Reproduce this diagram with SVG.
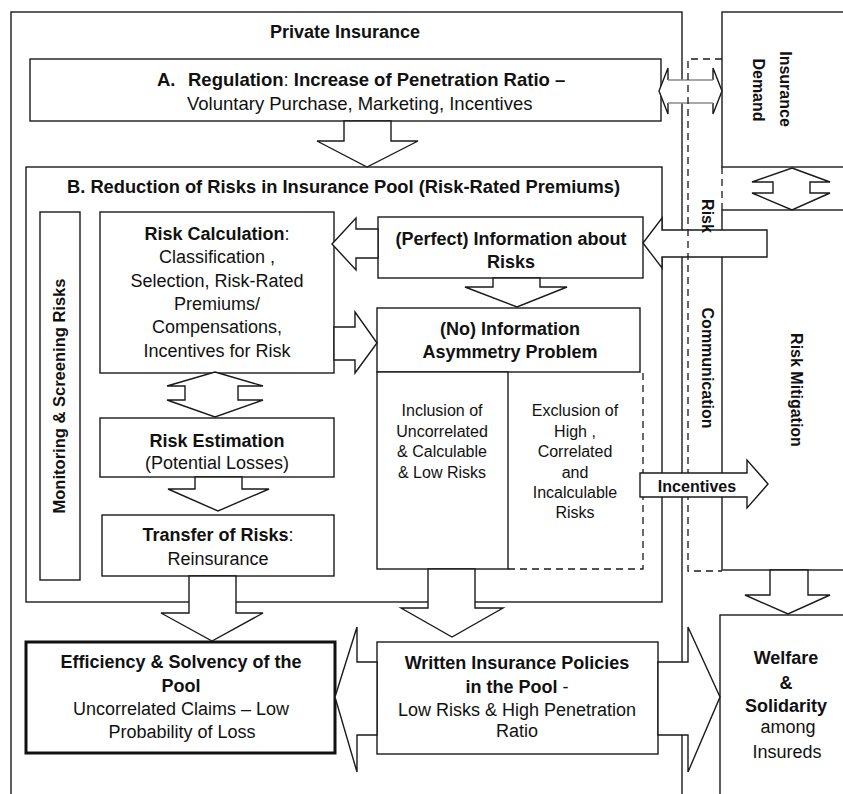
<svg xmlns="http://www.w3.org/2000/svg" width="843" height="794" viewBox="0 0 843 794">
  <style>
    .box{fill:#fff;stroke:#1a1a1a;stroke-width:1.4}
    .thick{fill:#fff;stroke:#111;stroke-width:3}
    .ln{fill:none;stroke:#1a1a1a;stroke-width:1.4}
    .dash{fill:none;stroke:#1a1a1a;stroke-width:1.3;stroke-dasharray:7 5}
    .arr{fill:#fff;stroke:#1a1a1a;stroke-width:1.4;stroke-linejoin:miter}
    .grey{fill:none;stroke:#8a8a8a;stroke-width:1.4}
    text{font-family:"Liberation Sans",Arial,Helvetica,sans-serif;fill:#111;text-anchor:middle}
    .b{font-weight:bold}
    .n{font-weight:normal}
    .s16{font-size:16px}
    .s18{font-size:18px}
    .s185{font-size:18.5px}
    .st{text-anchor:start}
  </style>

  <!-- outer frames -->
  <g id="private-insurance">
    <rect class="box" x="11" y="12" width="671" height="800"/>
    <text class="b s18" x="345" y="38">Private Insurance</text>
  </g>
  <g id="insurance-demand">
    <rect class="box" x="722" y="12" width="130" height="155"/>
    <text class="b s16" transform="translate(780,89) rotate(90)">Insurance</text>
    <text class="b s16" transform="translate(753,90) rotate(90)">Demand</text>
  </g>
  <g id="risk-mitigation">
    <rect class="box" x="722" y="210" width="130" height="360"/>
    <text class="b s16" transform="translate(791,390) rotate(90)">Risk Mitigation</text>
  </g>
  <g id="welfare">
    <rect class="box" x="720" y="615" width="130" height="200"/>
    <text class="b s18" x="786" y="664">Welfare</text>
    <text class="b s18" x="786" y="689">&amp;</text>
    <text class="b s18" x="786" y="712">Solidarity</text>
    <text class="s18" x="788" y="733">among</text>
    <text class="s18" x="787" y="758">Insureds</text>
  </g>

  <!-- A. regulation -->
  <g id="regulation">
    <rect class="box" x="30" y="59" width="631" height="62"/>
    <text class="b s185 st" x="157" y="86">A.</text>
    <text class="b s185 st" x="188" y="86">Regulation<tspan class="n">:</tspan> Increase of Penetration Ratio –</text>
    <text class="s185 st" x="187" y="110">Voluntary Purchase, Marketing, Incentives</text>
  </g>

  <!-- B. risk pool -->
  <g id="risk-pool">
    <rect class="box" x="26" y="167" width="636" height="435"/>
    <text class="b s18 st" x="67" y="193" textLength="553" lengthAdjust="spacingAndGlyphs">B. Reduction of Risks in Insurance Pool (Risk-Rated Premiums)</text>
  </g>

  <g id="monitoring">
    <rect class="box" x="40" y="212" width="40" height="368"/>
    <text class="b s16" transform="translate(65,396) rotate(-90)" textLength="235" lengthAdjust="spacingAndGlyphs">Monitoring &amp; Screening Risks</text>
  </g>

  <g id="risk-calculation">
    <rect class="box" x="100" y="212" width="234" height="161"/>
    <text class="s18" x="217" y="240"><tspan class="b">Risk Calculation</tspan>:</text>
    <text class="s18" x="217" y="263">Classification ,</text>
    <text class="s18" x="217" y="287">Selection, Risk-Rated</text>
    <text class="s18" x="217" y="310">Premiums/</text>
    <text class="s18" x="217" y="333">Compensations,</text>
    <text class="s18" x="217" y="357">Incentives for Risk</text>
  </g>

  <g id="risk-estimation">
    <rect class="box" x="100" y="418" width="234" height="59"/>
    <text class="b s18" x="217" y="447">Risk Estimation</text>
    <text class="s18" x="217" y="469">(Potential Losses)</text>
  </g>

  <g id="transfer">
    <rect class="box" x="102" y="515" width="232" height="61"/>
    <text class="s18" x="218" y="541"><tspan class="b">Transfer of Risks</tspan>:</text>
    <text class="s18" x="218" y="565">Reinsurance</text>
  </g>

  <g id="perfect-information">
    <rect class="box" x="378" y="217" width="265" height="61"/>
    <text class="b s18" x="511" y="245">(Perfect) Information about</text>
    <text class="b s18" x="511" y="268">Risks</text>
  </g>

  <g id="no-asymmetry">
    <rect class="box" x="377" y="308" width="263" height="64"/>
    <text class="b s18" x="510" y="335">(No) Information</text>
    <text class="b s18" x="510" y="358">Asymmetry Problem</text>
    <rect class="box" x="377" y="372" width="131" height="197"/>
    <text class="s16" x="442" y="416">Inclusion of</text>
    <text class="s16" x="442" y="437">Uncorrelated</text>
    <text class="s16" x="442" y="457">&amp; Calculable</text>
    <text class="s16" x="442" y="478">&amp; Low Risks</text>
    <path class="dash" d="M508,569 H643 V372"/>
    <text class="s16" x="575" y="416">Exclusion of</text>
    <text class="s16" x="575" y="437">High ,</text>
    <text class="s16" x="575" y="457">Correlated</text>
    <text class="s16" x="575" y="478">and</text>
    <text class="s16" x="575" y="498">Incalculable</text>
    <text class="s16" x="575" y="518">Risks</text>
  </g>

  <g id="efficiency">
    <rect class="thick" x="26" y="642" width="309" height="111"/>
    <text class="b s18" x="181" y="668">Efficiency &amp; Solvency of the</text>
    <text class="b s18" x="181" y="692">Pool</text>
    <text class="s18" x="181" y="715">Uncorrelated Claims – Low</text>
    <text class="s18" x="182" y="738">Probability of Loss</text>
  </g>

  <g id="written-policies">
    <rect class="box" x="377" y="642" width="281" height="112"/>
    <text class="b s18" x="517" y="669">Written Insurance Policies</text>
    <text class="b s18" x="517" y="693">in the Pool <tspan class="n">-</tspan></text>
    <text class="s18" x="517" y="716">Low Risks &amp; High Penetration</text>
    <text class="s18" x="517" y="737">Ratio</text>
  </g>

  <!-- connectors -->
  <g id="connectors">
    <!-- regulation <-> demand -->
    <polygon points="659,91 668,68 668,80 713,80 713,68 722,91 713,114 713,103 668,103 668,114" fill="#fff" stroke="none"/>
    <path class="ln" d="M668,80 V68 L659,91 L668,114 V103 M713,80 V68 L722,91 L713,114 V103"/>
    <path class="grey" d="M668,80 H713 M668,103 H713"/>
    <!-- information from risk mitigation side -->
    <polygon class="arr" points="643,243 662,218 662,230 767,230 767,257 662,257 662,268"/>

    <!-- risk communication band -->
    <path class="dash" d="M722,59 H688 V571 H722"/>
    <path class="dash" d="M722,167 V210"/>
    <text class="b s16" transform="translate(702,216) rotate(90)">Risk</text>
    <text class="b s16" transform="translate(702,368) rotate(90)">Communication</text>

    <!-- demand <-> mitigation -->
    <polygon class="arr" points="792,168 830,182 810,182 810,193 830,193 792,210 752,193 773,193 773,182 752,182"/>
    <!-- A -> B -->
    <polygon class="arr" points="344,121 391,121 391,141 418,141 367,167 317,141 344,141"/>
    <!-- perfect info -> risk calculation -->
    <polygon class="arr" points="332,244 356,218 356,229 378,229 378,258 356,258 356,270"/>
    <!-- perfect info -> no asymmetry -->
    <polygon class="arr" points="493,278 540,278 540,287 567,287 517,307 465,287 493,287"/>
    <!-- risk calculation -> no asymmetry -->
    <polygon class="arr" points="334,327 355,327 355,312 377,343 355,373 355,360 334,360"/>
    <!-- risk calculation <-> estimation -->
    <polygon class="arr" points="215,372 263,386 238,386 238,400 263,400 215,417 167,400 185,400 185,386 167,386"/>
    <!-- estimation -> transfer -->
    <polygon class="arr" points="195,477 242,477 242,489 269,489 218,511 168,489 195,489"/>
    <!-- transfer -> efficiency -->
    <polygon class="arr" points="189,576 236,576 236,613 263,613 212,641 161,613 189,613"/>
    <!-- inclusion -> written policies -->
    <polygon class="arr" points="428,569 475,569 475,608 503,608 452,637 401,608 428,608"/>
    <!-- written policies -> efficiency -->
    <polygon class="arr" points="335,697 357,627 357,662 377,662 377,735 357,735 357,772"/>
    <!-- written policies -> welfare -->
    <polygon class="arr" points="658,662 688,662 688,627 720,697 688,772 688,735 658,735"/>
    <!-- mitigation -> welfare -->
    <polygon class="arr" points="770,570 808,570 808,595 830,595 788,614 745,595 770,595"/>
    <!-- incentives -->
    <polygon class="arr" points="640,473 747,473 747,460 768,484 747,508 747,497 640,497"/>
    <text class="b s16" x="697" y="492">Incentives</text>
  </g>
</svg>
